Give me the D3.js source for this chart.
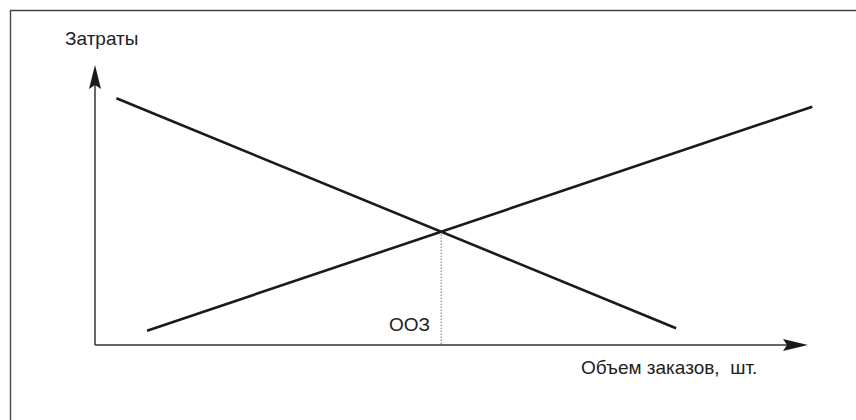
<!DOCTYPE html>
<html>
<head>
<meta charset="utf-8">
<script src="https://cdn.jsdelivr.net/npm/d3@7"></script>
<style>
  body { margin: 0; background: #fff; }
  text { font-family: "Liberation Sans", Arial, sans-serif; fill: #222; }
</style>
</head>
<body>
<svg class="chart"></svg>
<script>
// two cost lines, in chart units (x: order volume, y: costs)
const decreasingX = [0.30, 8.15];
const decreasingY = [8.81, 0.60];
const increasingX = [0.73, 10.06];
const increasingY = [0.51, 8.51];

const yLabel = "Затраты";
const xLabel = "Объем заказов,  шт.";
const pointLabel = "ООЗ";

const W = 856, H = 420;
const origin = { x: 95, y: 345 };

const svg = d3.select(".chart")
    .attr("width", W)
    .attr("height", H);

// frame (only top and left edges fall inside the picture)
svg.append("path")
    .attr("d", `M10.5,${H + 5} V10.5 H${W + 5}`)
    .attr("fill", "none")
    .attr("stroke", "#444")
    .attr("stroke-width", 1.4);

const x = d3.scaleLinear().domain([0, 10]).range([origin.x, 808]);
const y = d3.scaleLinear().domain([0, 10]).range([origin.y, 65]);

// axes
svg.append("line")
    .attr("x1", x(0)).attr("y1", y(0))
    .attr("x2", x(0)).attr("y2", y(10) + 20)
    .attr("stroke", "#333").attr("stroke-width", 1.5);

svg.append("line")
    .attr("x1", x(0)).attr("y1", y(0))
    .attr("x2", x(10) - 20).attr("y2", y(0))
    .attr("stroke", "#333").attr("stroke-width", 1.5);

// arrow heads
const ty = y(10), tx = x(10);
svg.append("path")
    .attr("d", `M${x(0)},${ty} L${x(0) + 6},${ty + 24} L${x(0)},${ty + 20} L${x(0) - 6},${ty + 24} Z`)
    .attr("fill", "#1a1a1a");
svg.append("path")
    .attr("d", `M${tx},${y(0)} L${tx - 25},${y(0) - 6} L${tx - 21},${y(0)} L${tx - 25},${y(0) + 6} Z`)
    .attr("fill", "#1a1a1a");

// cost lines
const line = d3.line().x(d => x(d[0])).y(d => y(d[1]));
const series = [d3.zip(decreasingX, decreasingY), d3.zip(increasingX, increasingY)];

svg.selectAll(".cost")
    .data(series)
    .enter().append("path")
    .attr("class", "cost")
    .attr("d", line)
    .attr("fill", "none")
    .attr("stroke", "#1a1a1a")
    .attr("stroke-width", 2.6);

// intersection of the two lines
const k1 = (decreasingY[1] - decreasingY[0]) / (decreasingX[1] - decreasingX[0]);
const k2 = (increasingY[1] - increasingY[0]) / (increasingX[1] - increasingX[0]);
const b1 = decreasingY[0] - k1 * decreasingX[0];
const b2 = increasingY[0] - k2 * increasingX[0];
const ix = (b2 - b1) / (k1 - k2);
const iy = k1 * ix + b1;

svg.append("line")
    .attr("x1", x(ix)).attr("y1", y(iy))
    .attr("x2", x(ix)).attr("y2", y(0))
    .attr("stroke", "#333")
    .attr("stroke-width", 1)
    .attr("stroke-dasharray", "1,2");

// labels
svg.append("text")
    .attr("x", 65).attr("y", 45)
    .style("font-size", "19px")
    .text(yLabel);

svg.append("text")
    .attr("x", 389).attr("y", 331)
    .style("font-size", "19px")
    .text(pointLabel);

svg.append("text")
    .attr("x", 581).attr("y", 374)
    .style("font-size", "19px")
    .style("white-space", "pre")
    .text(xLabel);
</script>
</body>
</html>
